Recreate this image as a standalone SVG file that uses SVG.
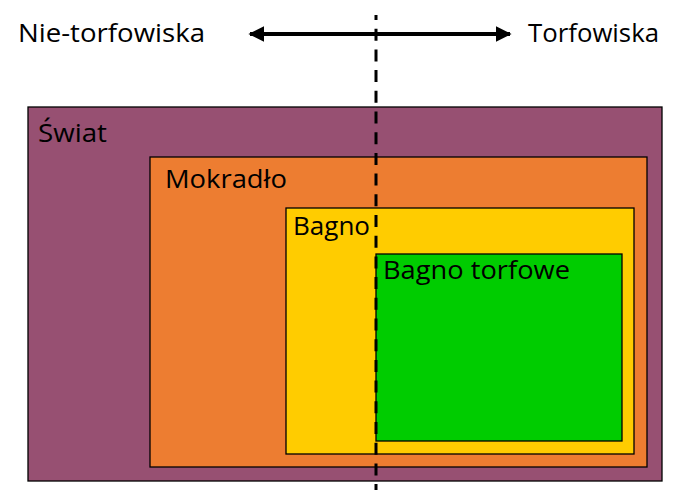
<svg xmlns="http://www.w3.org/2000/svg" width="679" height="490" viewBox="0 0 679 490">
<defs>
<style>
.box{stroke:#000;stroke-width:1.3}
.lbl{font-family:"Open Sans","Noto Sans","DejaVu Sans",sans-serif;font-size:25px;fill:#000}
.conn{stroke:#000;fill:none}
</style>
<marker id="ah" viewBox="0 0 10 10" refX="9" refY="5" markerWidth="4" markerHeight="4" orient="auto-start-reverse" markerUnits="strokeWidth">
<path d="M0,0 L10,5 L0,10 Z" fill="#000"/>
</marker>
</defs>
<rect width="679" height="490" fill="#fff"/>
<g id="swiat">
<rect class="box" x="28" y="107" width="634" height="374" fill="#975072"/>
<text class="lbl" x="38" y="142" textLength="69" lengthAdjust="spacingAndGlyphs">Świat</text>
</g>
<g id="mokradlo">
<rect class="box" x="150" y="157" width="497" height="310" fill="#ED7D31"/>
<text class="lbl" x="165" y="188" textLength="122" lengthAdjust="spacingAndGlyphs">Mokradło</text>
</g>
<g id="bagno">
<rect class="box" x="286" y="208" width="348" height="246" fill="#FFCC00"/>
<text class="lbl" x="293" y="235" textLength="77" lengthAdjust="spacingAndGlyphs">Bagno</text>
</g>
<g id="bagno-torfowe">
<rect class="box" x="376" y="254" width="246" height="187" fill="#00CC00"/>
<text class="lbl" x="383" y="279" textLength="187" lengthAdjust="spacingAndGlyphs">Bagno torfowe</text>
</g>
<g id="labels">
<text class="lbl" x="18" y="42" textLength="187" lengthAdjust="spacingAndGlyphs">Nie-torfowiska</text>
<text class="lbl" x="528" y="42" textLength="131" lengthAdjust="spacingAndGlyphs">Torfowiska</text>
</g>
<g id="connectors">
<line class="conn" x1="250" y1="34" x2="510" y2="34" stroke-width="4" marker-start="url(#ah)" marker-end="url(#ah)"/>
<line class="conn" x1="376" y1="15" x2="376" y2="490" stroke-width="3" stroke-dasharray="12 8.7" stroke-dashoffset="7"/>
</g>
</svg>
